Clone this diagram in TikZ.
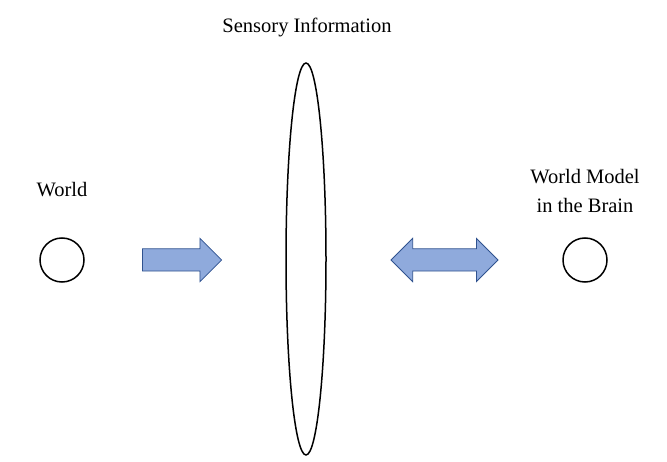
\documentclass[tikz,border=0pt]{standalone}
\usepackage{fontspec}
\setmainfont{Liberation Serif}
\usetikzlibrary{shapes.geometric,shapes.arrows}
\definecolor{arrowfill}{HTML}{8FAADC}
\definecolor{arrowline}{HTML}{2F528F}
\begin{document}
\begin{tikzpicture}[x=1pt,y=-1pt,
  label text/.style={font=\fontsize{20.5}{29}\selectfont,inner sep=0pt,align=center},
  thing/.style={circle,draw,line width=1.5pt,minimum size=44pt,inner sep=0pt},
  block arrow/.style={fill=arrowfill,draw=arrowline,line width=0.75pt,inner xsep=0pt,inner ysep=10.75pt}]
\useasboundingbox (0,0) rectangle (667,462);
\node[thing] (world) at (62,260) {};
\node[thing] (model) at (585,260) {};
\node[ellipse,draw,line width=1.5pt,minimum width=40pt,minimum height=392pt,inner sep=0pt] (senses) at (306,259) {};
\node[label text,anchor=base] (worldtext) at (62,197) {World};
\node[label text] (modeltext) at (585,190.5) {World Model\\in the Brain};
\node[label text,anchor=base] (sensetext) at (307,33) {Sensory Information};
\node[block arrow,single arrow,single arrow head extend=10.5pt,single arrow tip angle=90,minimum height=79pt] (inflow) at (176.5,260) {};
\node[block arrow,double arrow,double arrow head extend=10.5pt,double arrow tip angle=90,minimum height=107pt] (exchange) at (444.5,260) {};
\end{tikzpicture}
\end{document}
